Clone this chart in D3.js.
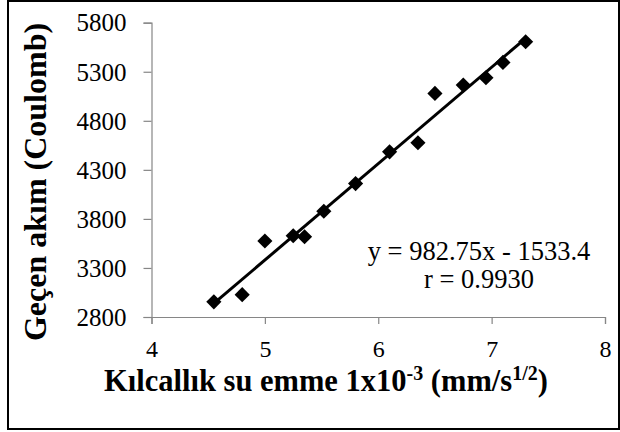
<!DOCTYPE html>
<html>
<head>
<meta charset="utf-8">
<script src="https://cdn.jsdelivr.net/npm/d3@7"></script>
<style>
  body { margin: 0; background: #fff; }
  text { font-family: "Liberation Serif", "Times New Roman", serif; fill: #000; }
</style>
</head>
<body>
<div id="chart"></div>
<script>
// capillary water absorption vs passing charge
const absorption = [4.55, 4.80, 5.00, 5.25, 5.35, 5.52, 5.80, 6.10, 6.35, 6.50, 6.75, 6.95, 7.10, 7.30];
const charge = [2955, 3028, 3575, 3628, 3618, 3878, 4160, 4484, 4576, 5079, 5164, 5239, 5395, 5606];
const xTicks = [4, 5, 6, 7, 8];
const yTicks = [2800, 3300, 3800, 4300, 4800, 5300, 5800];
const slope = 982.75, intercept = -1533.4;
const eqLabel = "y = 982.75x - 1533.4";
const rLabel = "r = 0.9930";

var W = 620, H = 432;
var margin = {top: 22.7, right: 15, bottom: 115, left: 151.5};

var svg = d3.select("#chart").append("svg")
  .attr("width", W)
  .attr("height", H);

// outer frame
svg.append("rect")
  .attr("x", 8).attr("y", 1)
  .attr("width", W - 9).attr("height", H - 4)
  .attr("fill", "none")
  .attr("stroke", "#000")
  .attr("stroke-width", 2);

var x = d3.scaleLinear().domain([4, 8]).range([margin.left, 605]);
var y = d3.scaleLinear().domain([2800, 5800]).range([317, margin.top]);

// y axis
var gy = svg.append("g")
  .attr("transform", "translate(" + x(4) + ",0)")
  .call(d3.axisLeft(y).tickValues(yTicks).tickSize(8).tickPadding(17).tickFormat(d3.format("d")));
gy.select(".domain").attr("stroke", "#868686").attr("stroke-width", 1.2);
gy.selectAll(".tick line").attr("stroke", "#868686").attr("stroke-width", 1.2);
gy.selectAll(".tick text")
  .style("font-size", "25px")
  .style("font-family", "Liberation Serif")
  .attr("dy", "0.33em");

// x axis
var gx = svg.append("g")
  .attr("transform", "translate(0," + y(2800) + ")")
  .call(d3.axisBottom(x).tickValues(xTicks).tickSize(7).tickFormat(d3.format("d")));
gx.select(".domain").attr("stroke", "#868686").attr("stroke-width", 1.2);
gx.selectAll(".tick line").attr("stroke", "#868686").attr("stroke-width", 1.2);
gx.selectAll(".tick text")
  .style("font-size", "24px")
  .style("font-family", "Liberation Serif")
  .attr("y", 40)
  .attr("dy", 0);

// trend line over the data range
var xmin = d3.min(absorption), xmax = d3.max(absorption);
var trend = [[xmin, slope * xmin + intercept], [xmax, slope * xmax + intercept]];
svg.append("path")
  .datum(trend)
  .attr("fill", "none")
  .attr("stroke", "#000")
  .attr("stroke-width", 3)
  .attr("d", d3.line().x(d => x(d[0])).y(d => y(d[1])));

// diamond markers
var pts = absorption.map((v, i) => ({x: v, y: charge[i]}));
var diamond = d3.symbol().type(d3.symbolSquare).size(115);
svg.selectAll(".pt")
  .data(pts)
  .enter().append("path")
  .attr("class", "pt")
  .attr("d", diamond)
  .attr("fill", "#000")
  .attr("transform", d => "translate(" + x(d.x) + "," + y(d.y) + ") rotate(45)");

// regression text
svg.append("text")
  .attr("x", 479).attr("y", 260)
  .attr("text-anchor", "middle")
  .style("font-size", "26.5px")
  .text(eqLabel);
svg.append("text")
  .attr("x", 479).attr("y", 288)
  .attr("text-anchor", "middle")
  .style("font-size", "26.5px")
  .text(rLabel);

// axis titles
var xt = svg.append("text")
  .attr("x", 326).attr("y", 391)
  .attr("text-anchor", "middle")
  .style("font-size", "30.5px")
  .style("font-weight", "bold");
xt.append("tspan").text("Kılcallık su emme 1x10");
xt.append("tspan").attr("dy", -11).style("font-size", "20px").text("-3");
xt.append("tspan").attr("dy", 11).text(" (mm/s");
xt.append("tspan").attr("dy", -11).style("font-size", "20px").text("1/2");
xt.append("tspan").attr("dy", 11).text(")");

svg.append("text")
  .attr("transform", "translate(46,182) rotate(-90)")
  .attr("text-anchor", "middle")
  .style("font-size", "32px")
  .style("font-weight", "bold")
  .text("Geçen akım (Coulomb)");
</script>
</body>
</html>
